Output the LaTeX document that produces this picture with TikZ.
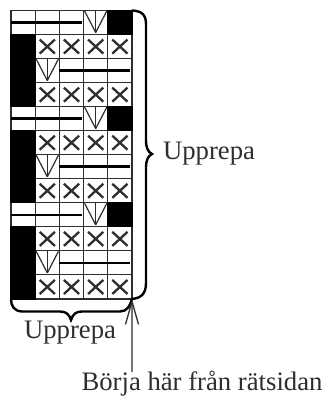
\documentclass[tikz,border=0pt]{standalone}
\usepackage{fontspec}
\setmainfont{Liberation Serif}
\usetikzlibrary{arrows.meta}
\definecolor{ink}{gray}{0.18}
\tikzset{
  x=1bp,y=-1bp,
  gridcell/.style={draw=ink,line width=1.1bp,minimum width=24.2bp,minimum height=24.04bp,inner sep=0pt,outer sep=0pt,anchor=north west},
  blackcell/.style={gridcell,fill=black,draw=black},
  strand/.style={draw=black,line width=2.6bp},
  vstroke/.style={draw=ink,line width=1.2bp},
  crossstroke/.style={draw=ink,line width=2.3bp},
  bracestroke/.style={draw=black,line width=2.4bp,line cap=round},
  label text/.style={text=ink,font=\fontsize{26.8}{29}\selectfont,inner sep=0pt,anchor=base},
}
\newcommand{\cellV}[1]{%
  \draw[vstroke] ([xshift=1bp,yshift=-0.5bp]#1.north west) -- ([yshift=-22bp]#1.north);
  \draw[vstroke] ([xshift=-1bp,yshift=-0.5bp]#1.north east) -- ([yshift=-22bp]#1.north);
  \draw[vstroke] (#1.north) -- ([yshift=-22bp]#1.north);
}
\newcommand{\cellX}[1]{%
  \draw[crossstroke] ([xshift=4.5bp,yshift=-5bp]#1.north west) -- ([xshift=-4.5bp,yshift=5bp]#1.south east);
  \draw[crossstroke] ([xshift=-4.5bp,yshift=-5bp]#1.north east) -- ([xshift=4.5bp,yshift=5bp]#1.south west);
}
\begin{document}
\begin{tikzpicture}
\useasboundingbox (0,0) rectangle (324,396);
\fill[white] (0,0) rectangle (324,396);
\foreach \r in {0,1,...,11}{
  \foreach \c in {0,1,2,3,4}{
    \pgfmathsetmacro{\xx}{11+24.2*\c}
    \pgfmathsetmacro{\yy}{10.5+24.04*\r}
    \node[gridcell] (c-\r-\c) at (\xx,\yy) {};
  }
}
\foreach \a/\b/\d/\e in {0/1/2/3,4/5/6/7,8/9/10/11}{
  \node[blackcell] at (c-\a-4.north west) {};
  \draw[strand] (c-\a-0.west) -- ([xshift=-1.5bp]c-\a-2.east);
  \cellV{c-\a-3}
  \node[blackcell] at (c-\b-0.north west) {};
  \node[blackcell] at (c-\d-0.north west) {};
  \node[blackcell] at (c-\e-0.north west) {};
  \cellV{c-\d-1}
  \draw[strand] (c-\d-2.west) -- ([xshift=-2bp]c-\d-4.east);
  \foreach \c in {1,2,3,4}{
    \cellX{c-\b-\c}
    \cellX{c-\e-\c}
  }
}
\draw[bracestroke] (c-0-4.north east) .. controls (141,11) and (146,14) .. (146,24)
  -- (146,140) .. controls (146,148) and (148,152) .. (152,154)
  .. controls (148,156) and (146,160) .. (146,168)
  -- (146,283) .. controls (146,294) and (141,298) .. (c-11-4.south east);
\draw[bracestroke] (c-11-0.south west) .. controls (11,306) and (14,311) .. (22,311.5)
  -- (60,311.5) .. controls (66,311.5) and (69,314) .. (71,320)
  .. controls (73,314) and (76,311.5) .. (82,311.5)
  -- (120,311.5) .. controls (127,311.5) and (130,306) .. (c-11-4.south east);
\node[label text] (rightlabel) at (209,159) {Upprepa};
\node[label text] (bottomlabel) at (70,338) {Upprepa};
\node[label text] (startlabel) at (202,390.2) {Börja här från rätsidan};
\coordinate (arrowfoot) at (132,372);
\draw[draw=ink,line width=1.3bp,-{Straight Barb[length=23bp,width=13bp]}] (arrowfoot) -- (c-11-4.south east);
\end{tikzpicture}
\end{document}
